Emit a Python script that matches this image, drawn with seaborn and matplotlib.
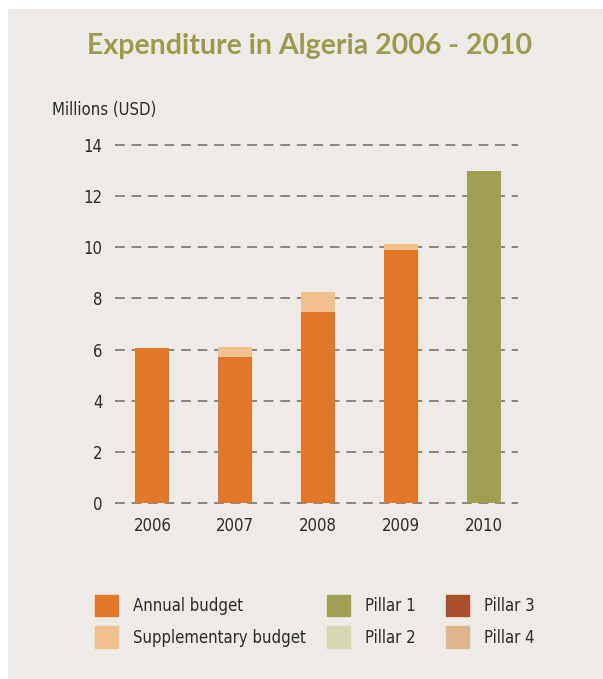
import matplotlib
matplotlib.use("Agg")
import matplotlib.pyplot as plt
import matplotlib.patches as mpatches
import seaborn as sns
import pandas as pd

years = ["2006", "2007", "2008", "2009", "2010"]
annual = [6.05, 5.72, 7.45, 9.88, 0.0]
supplementary = [0.0, 0.4, 0.8, 0.24, 0.0]
pillar1 = [0.0, 0.0, 0.0, 0.0, 13.0]
yticks = [0, 2, 4, 6, 8, 10, 12, 14]

c_annual = "#E2772A"
c_supp = "#F2C28E"
c_p1 = "#A39F52"
c_p2 = "#D5D7B3"
c_p3 = "#A9502A"
c_p4 = "#DFB58C"
paper = "#EEEBE6"
olive = "#9C9A4E"
text_c = "#2b2b2b"

sns.set_style("white")
plt.rcParams["font.family"] = ["DejaVu Sans"]
plt.rcParams["font.stretch"] = "condensed"

df = pd.DataFrame({"year": years, "annual": annual,
                   "total": [a + s for a, s in zip(annual, supplementary)],
                   "pillar1": pillar1})

fig = plt.figure(figsize=(6.03, 6.79), dpi=100, facecolor="white")
fig.patches.append(mpatches.Rectangle((8 / 603, 0), 1, 1 - 9 / 679,
                                      transform=fig.transFigure,
                                      facecolor=paper, edgecolor="none", zorder=-10))

ax = fig.add_axes([115 / 603, 1 - 503 / 679, 403 / 603, 358 / 679])
ax.set_facecolor("none")

# supplementary on top of annual: draw the total first, annual over it
sns.barplot(data=df, x="year", y="total", color=c_supp, width=0.41, ax=ax,
            saturation=1, linewidth=0, zorder=2)
sns.barplot(data=df, x="year", y="annual", color=c_annual, width=0.41, ax=ax,
            saturation=1, linewidth=0, zorder=3)
sns.barplot(data=df, x="year", y="pillar1", color=c_p1, width=0.41, ax=ax,
            saturation=1, linewidth=0, zorder=3)

ax.set_xlim(-0.45, 4.41)
ax.set_ylim(0, 14)
ax.set_yticks(yticks)
ax.yaxis.grid(True, linestyle=(0, (5, 3.5)), color="#868686", linewidth=1.4)
for gl in ax.get_ygridlines():
    gl.set_clip_on(False)
ax.set_axisbelow(True)
for s in ax.spines.values():
    s.set_visible(False)
ax.tick_params(axis="both", length=0, labelsize=12, colors=text_c)
ax.tick_params(axis="y", pad=9)
ax.tick_params(axis="x", pad=10)
ax.set_xlabel("")
ax.set_ylabel("")

fig.text(310 / 603, 1 - 46 / 679, "Expenditure in Algeria 2006 - 2010", ha="center", va="center",
         fontsize=20.5, fontweight="bold", color=olive, family=["Lato", "DejaVu Sans"],
         stretch="normal")
fig.text(52 / 603, 1 - 110 / 679, "Millions (USD)", ha="left", va="center",
         fontsize=12, color=text_c)

def add_legend(items, x):
    handles = [mpatches.Patch(color=c, label=l) for l, c in items]
    lg = fig.legend(handles=handles, loc="upper left", bbox_to_anchor=(x, 1 - 595 / 679),
                    frameon=False, fontsize=12, handlelength=1.4, handleheight=1.6,
                    handletextpad=0.9, labelspacing=0.6, borderaxespad=0, borderpad=0,
                    labelcolor=text_c)
    return lg

add_legend([("Annual budget", c_annual), ("Supplementary budget", c_supp)], 95 / 603)
add_legend([("Pillar 1", c_p1), ("Pillar 2", c_p2)], 327 / 603)
add_legend([("Pillar 3", c_p3), ("Pillar 4", c_p4)], 446 / 603)

fig.savefig("out.png", dpi=100, facecolor=fig.get_facecolor())
